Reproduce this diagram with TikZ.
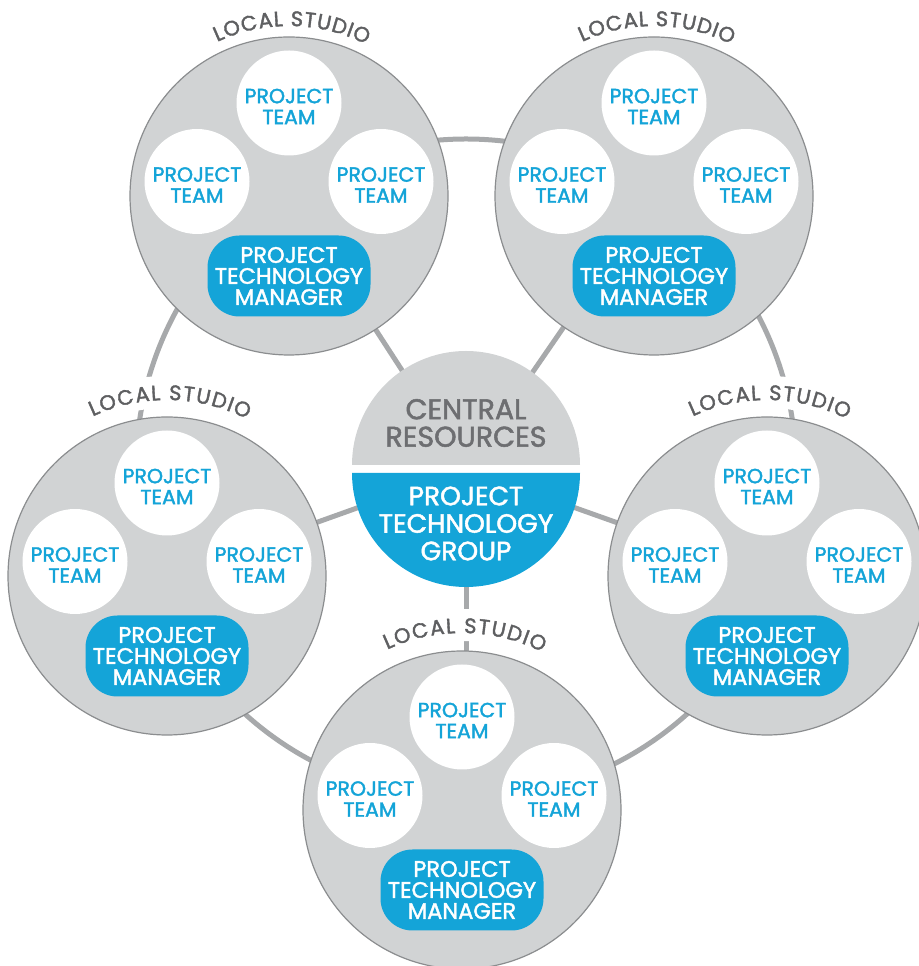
\documentclass[tikz,border=0pt]{standalone}
\usepackage{fontspec}
\setmainfont{Poppins}[FakeBold=1.8]
\usetikzlibrary{decorations.text}
\definecolor{studiofill}{HTML}{D1D3D4}
\definecolor{studioline}{HTML}{8B8D8F}
\definecolor{ringgray}{HTML}{A7A9AB}
\definecolor{ptblue}{HTML}{14A4D8}
\definecolor{textgray}{HTML}{6D6E71}
\definecolor{labelgray}{HTML}{5E5F61}
\pgfdeclarelayer{bg}
\pgfdeclarelayer{mid}
\pgfsetlayers{bg,mid,main}
\newcommand\studiofont{\fontsize{21}{21}\selectfont}
\tikzset{
  studiocirc/.style={circle, fill=studiofill, draw=studioline, line width=1.2pt, minimum size=318pt, inner sep=0pt},
  teamtext/.style={text=ptblue, align=center, inner sep=0pt, yshift=-3.5pt, font=\fontsize{20.5}{21}\selectfont},
  teamcirc/.style={circle, fill=white, minimum size=105pt, inner sep=0pt, label={[teamtext]center:PROJECT\\TEAM}},
  mgrbox/.style={rectangle, rounded corners=32pt, fill=ptblue, minimum width=163pt, minimum height=81pt, inner sep=0pt, text=white, align=center, font=\fontsize{22.5}{21}\selectfont},
  link/.style={draw=ringgray, line width=5pt},
  backing/.style={draw=white, line width=32pt},
  centraltext/.style={text=textgray, align=center, inner sep=0pt, font=\fontsize{28.5}{27.5}\selectfont},
  grouptext/.style={text=white, align=center, inner sep=0pt, font=\fontsize{26.5}{27.5}\selectfont},
}
\newcommand\makestudio[4]{%
  \node[studiocirc] (#1) at (#2,#3) {};
  \node[teamcirc] (#1-top) at ([shift={(0,93)}]#1.center) {};
  \node[teamcirc] (#1-left) at ([shift={(-92,14.5)}]#1.center) {};
  \node[teamcirc] (#1-right) at ([shift={(92,14.5)}]#1.center) {};
  \node[mgrbox] (#1-mgr) at ([shift={(0,-80)}]#1.center) {PROJECT\\TECHNOLOGY\\MANAGER};
  \begin{scope}
    \studiofont
    \path[decorate, decoration={text along path, text={|\color{labelgray}|LOCAL STUDIO}, text align=fit to path}]
      ([shift={(115:#4)}]#1.center) arc[start angle=115, end angle=63, radius=#4];
  \end{scope}
  \begin{pgfonlayer}{mid}
    \draw[backing] ([shift={(118:#4+8)}]#1.center) arc[start angle=118, end angle=60, radius=#4+8];
  \end{pgfonlayer}
}
\begin{document}
\begin{tikzpicture}[x=1pt, y=1pt]
  \useasboundingbox (0,0) rectangle (918,966);
  % central resources
  \node[circle, fill=white, minimum size=230pt, inner sep=0pt] (central) at (466,497) {};
  \fill[studiofill] ([shift={(-114,4)}]central.center) arc[start angle=180, end angle=0, radius=114] -- cycle;
  \fill[ptblue] ([shift={(114,-4)}]central.center) arc[start angle=0, end angle=-180, radius=114] -- cycle;
  \node[centraltext] (cres) at ([shift={(0,46)}]central.center) {CENTRAL\\RESOURCES};
  \node[grouptext] (ptg) at ([shift={(0,-54.5)}]central.center) {PROJECT\\TECHNOLOGY\\GROUP};
  % studios
  \makestudio{tl}{289}{770}{170}
  \makestudio{tr}{654}{770}{170}
  \makestudio{l}{167}{390}{176}
  \makestudio{r}{767}{390}{176}
  \makestudio{b}{462}{156}{177}
  % ring and spokes
  \begin{pgfonlayer}{bg}
    \draw[link] (central.center) circle[radius=330];
    \draw[link] (central.center) -- (tl.center);
    \draw[link] (central.center) -- (tr.center);
    \draw[link] (central.center) -- (l.center);
    \draw[link] (central.center) -- (r.center);
    \draw[link] (central.center) -- (central.center |- b.center);
  \end{pgfonlayer}
\end{tikzpicture}
\end{document}
